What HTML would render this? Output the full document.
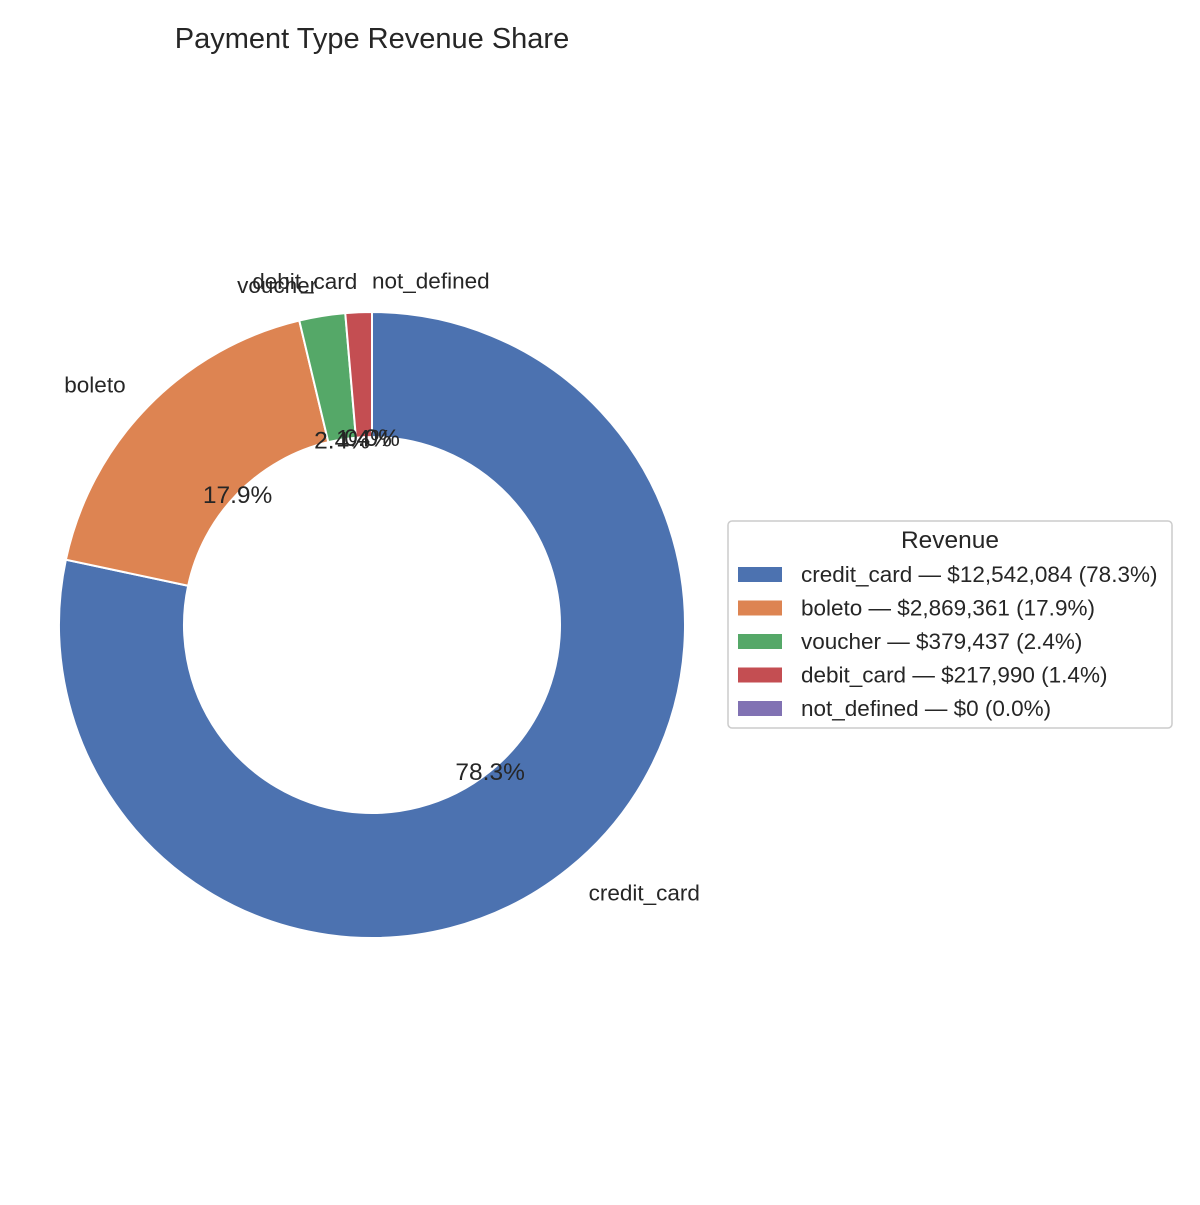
<!DOCTYPE html>
<html><head><meta charset="utf-8"><style>
body{margin:0;background:#fff;}
svg text{font-family:"Liberation Sans",Arial,sans-serif;fill:#262626;}
</style></head><body>
<svg id="chart" width="1200" height="1200" viewBox="0 0 1200 1200" xmlns="http://www.w3.org/2000/svg">
<rect width="1200" height="1200" fill="#fff"/>
<text x="372" y="48" font-size="29" text-anchor="middle">Payment Type Revenue Share</text>
<g id="slices"></g>
<g id="labels"></g>
<g id="legend">
<rect x="728" y="521" width="444" height="207" rx="4" fill="#fff" stroke="#ccc" stroke-width="1.5"/>
<text x="950" y="548" font-size="24.5" text-anchor="middle">Revenue</text>
</g>
</svg>
<script>
const categories = ["credit_card","boleto","voucher","debit_card","not_defined"];
const revenues = [12542084, 2869361, 379437, 217990, 0];
const colors = ["#4C72B0","#DD8452","#55A868","#C44E52","#8172B3"];

const NS="http://www.w3.org/2000/svg";
const cx=372, cy=625, R=313, r=188;
const total=revenues.reduce((a,b)=>a+b,0);
function pt(angDeg,rad){const a=angDeg*Math.PI/180;return [cx+rad*Math.cos(a), cy-rad*Math.sin(a)];}
const gS=document.getElementById('slices'), gL=document.getElementById('labels'), gLeg=document.getElementById('legend');
let start=90;
categories.forEach((c,i)=>{
  const frac=revenues[i]/total, sweep=frac*360, end=start-sweep, mid=start-sweep/2;
  if(sweep>0){
    const [x1,y1]=pt(start,R),[x2,y2]=pt(end,R),[x3,y3]=pt(end,r),[x4,y4]=pt(start,r);
    const large=sweep>180?1:0;
    const p=document.createElementNS(NS,'path');
    p.setAttribute('d',`M${x1},${y1} A${R},${R} 0 ${large} 1 ${x2},${y2} L${x3},${y3} A${r},${r} 0 ${large} 0 ${x4},${y4} Z`);
    p.setAttribute('fill',colors[i]);p.setAttribute('stroke','#fff');p.setAttribute('stroke-width','2');
    
    
    gS.appendChild(p);
  }
  const [lx,ly]=pt(mid,R*1.1);
  const t=document.createElementNS(NS,'text');
  t.setAttribute('x',lx);t.setAttribute('y',ly+8);t.setAttribute('font-size','22.5');
  t.setAttribute('text-anchor',(lx-cx)>=-1e-9?'start':'end');
  t.textContent=c;
  
  
  gL.appendChild(t);
  const [px,py]=pt(mid,R*0.6);
  const q=document.createElementNS(NS,'text');
  q.setAttribute('x',px);q.setAttribute('y',py+9);q.setAttribute('font-size','24.5');q.setAttribute('text-anchor','middle');
  q.textContent=(frac*100).toFixed(1)+'%';
  
  
  gL.appendChild(q);
  const y0=574+i*33.5;
  const sw=document.createElementNS(NS,'rect');
  sw.setAttribute('x',738);sw.setAttribute('y',y0-7);sw.setAttribute('width',44);sw.setAttribute('height',15);sw.setAttribute('fill',colors[i]);
  
  
  gLeg.appendChild(sw);
  const lt=document.createElementNS(NS,'text');
  lt.setAttribute('x',801);lt.setAttribute('y',y0+8);lt.setAttribute('font-size','22.5');
  lt.textContent=c+' — $'+revenues[i].toLocaleString('en-US')+' ('+(frac*100).toFixed(1)+'%)';
  
  
  gLeg.appendChild(lt);
  start=end;
});
</script>
</body></html>
